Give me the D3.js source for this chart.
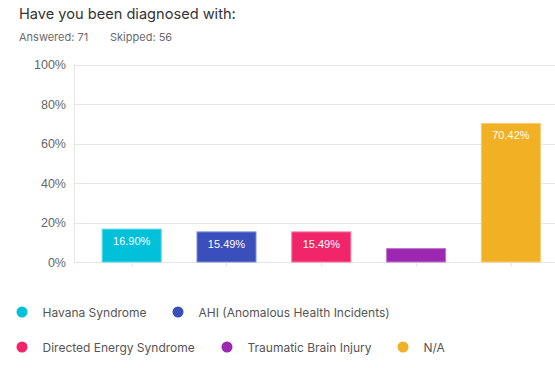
<!DOCTYPE html>
<html><head><meta charset="utf-8">
<script src="https://cdn.jsdelivr.net/npm/d3@7"></script>
<style>body{margin:0;background:#fff;}svg{display:block;}</style>
</head><body>
<svg id="c" width="555" height="368"></svg>
<script>
const categories = ["Havana Syndrome","AHI (Anomalous Health Incidents)","Directed Energy Syndrome","Traumatic Brain Injury","N/A"];
const values = [16.90, 15.49, 15.49, 7.04, 70.42];
const colors = ["#00c1d9","#3a4fbc","#f1266a","#9c27b0","#f2b124"];
const showLabel = [true,true,true,false,true];
const yTicks = [0,20,40,60,80,100];
const title = "Have you been diagnosed with:";
const answered = "Answered: 71", skipped = "Skipped: 56";

const rows = categories.map((c,i)=>({cat:c, v:values[i], color:colors[i], label:showLabel[i]}));

const svg = d3.select("#c");
const font = "Inter, 'Noto Sans', sans-serif";
const axisFont = "'Liberation Sans', Arial, sans-serif";

svg.append("text").attr("x",19).attr("y",19).attr("font-family",font).attr("font-size",14.6).attr("fill","#333").text(title);
svg.append("text").attr("x",19).attr("y",41).attr("font-family",font).attr("font-size",11).attr("fill","#6b6b6b").text(answered);
svg.append("text").attr("x",110).attr("y",41).attr("font-family",font).attr("font-size",11).attr("fill","#6b6b6b").text(skipped);

const y = d3.scaleLinear().domain([0,100]).range([262,64.5]);
const x = d3.scaleBand().domain(categories).range([84.3,558.3]).paddingInner(0.367).paddingOuter(0.1835);

svg.append("g").selectAll("line").data(yTicks).join("line")
  .attr("x1",74).attr("x2",555).attr("y1",d=>Math.round(y(d))+0.5).attr("y2",d=>Math.round(y(d))+0.5)
  .attr("stroke","#e6e6e6");
svg.append("line").attr("x1",74.5).attr("x2",74.5).attr("y1",64).attr("y2",262).attr("stroke","#e6e6e6");
svg.append("g").selectAll("text").data(yTicks).join("text")
  .attr("x",66).attr("y",d=>y(d)+4.5).attr("text-anchor","end")
  .attr("font-family",axisFont).attr("font-size",12.5).attr("fill","#666").text(d=>d+"%");
svg.append("g").selectAll("line").data(categories).join("line")
  .attr("x1",d=>Math.round(x(d)+x.bandwidth()/2)+0.5).attr("x2",d=>Math.round(x(d)+x.bandwidth()/2)+0.5)
  .attr("y1",262).attr("y2",266).attr("stroke","#e6e6e6");

svg.append("g").selectAll("rect").data(rows).join("rect")
  .attr("x",d=>x(d.cat)+0.5).attr("width",x.bandwidth()-1)
  .attr("y",d=>y(d.v)+0.5).attr("height",d=>y(0)-y(d.v)-0.5)
  .attr("fill",d=>d.color)
  .attr("stroke",d=>d3.interpolateRgb(d.color,"#fff")(0.35)).attr("stroke-width",1);

svg.append("g").selectAll("text").data(rows.filter(d=>d.label)).join("text")
  .attr("x",d=>x(d.cat)+x.bandwidth()/2).attr("y",d=>y(d.v)+16.5)
  .attr("text-anchor","middle").attr("font-family",axisFont).attr("font-size",11).attr("fill","#fff")
  .text(d=>d.v.toFixed(2)+"%");

const legendPos = [[22,312],[178,312],[22,347],[227,347],[403,347]];
const lg = svg.append("g").selectAll("g").data(rows).join("g")
  .attr("transform",(d,i)=>`translate(${legendPos[i][0]},${legendPos[i][1]})`);
lg.append("circle").attr("r",5.5).attr("fill",d=>d.color);
lg.append("text").attr("x",20.5).attr("y",4.5).attr("font-family",font).attr("font-size",12).attr("fill","#555").text(d=>d.cat);
</script>
</body></html>
